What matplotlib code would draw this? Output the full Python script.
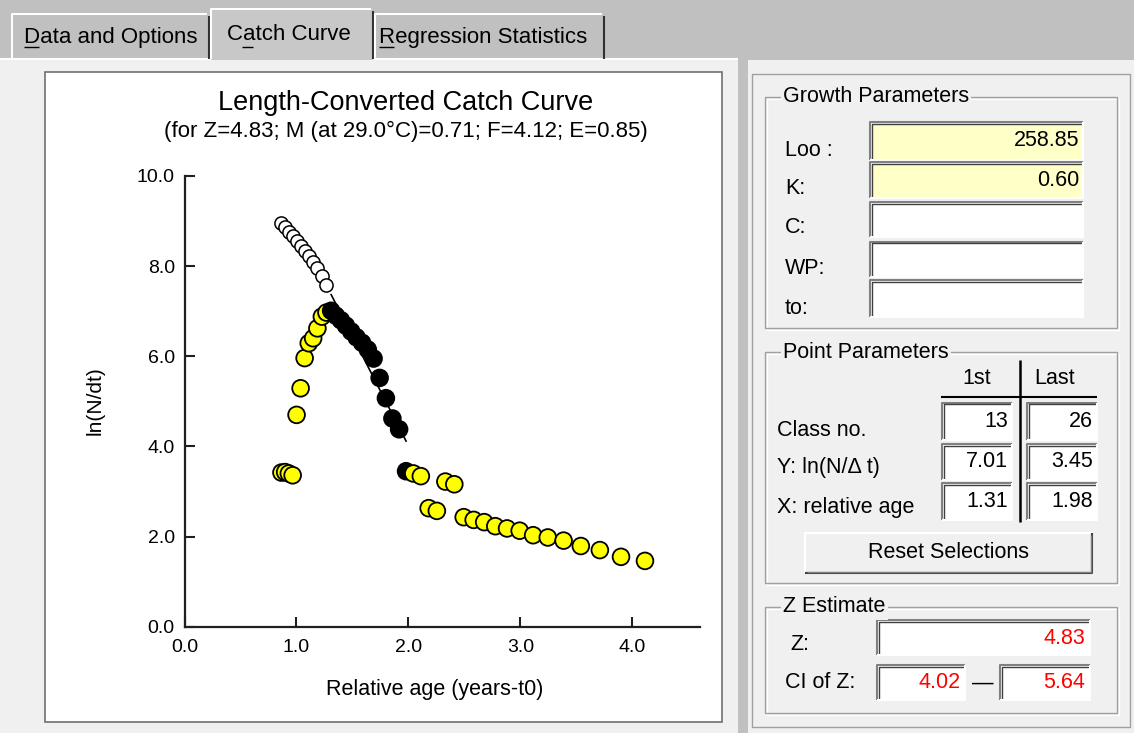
import numpy as np
import matplotlib
matplotlib.use('Agg')
import matplotlib.pyplot as plt
from matplotlib.patches import Rectangle
from matplotlib.lines import Line2D

plt.rcParams['font.family'] = ['Liberation Sans', 'DejaVu Sans']

W, H = 1134, 733

# relative age of each length class (classes 1..45) and observed ln(N/dt)
rel_age = [0.866, 0.899, 0.932, 0.966, 1.001, 1.037, 1.073, 1.110, 1.149, 1.187,
           1.227, 1.268, 1.310, 1.353, 1.397, 1.442, 1.489, 1.537, 1.586, 1.637,
           1.689, 1.743, 1.799, 1.857, 1.917, 1.979, 2.044, 2.111, 2.181, 2.254,
           2.330, 2.410, 2.494, 2.583, 2.677, 2.776, 2.881, 2.994, 3.114, 3.245,
           3.386, 3.540, 3.710, 3.899, 4.113]
ln_n_dt = [3.42, 3.43, 3.40, 3.36, 4.70, 5.29, 5.96, 6.29, 6.40, 6.62,
           6.88, 6.97, 7.01, 6.90, 6.80, 6.68, 6.55, 6.42, 6.30, 6.15,
           5.95, 5.52, 5.07, 4.62, 4.38, 3.45, 3.40, 3.34, 2.63, 2.57,
           3.22, 3.16, 2.43, 2.37, 2.32, 2.23, 2.18, 2.13, 2.03, 1.98,
           1.91, 1.79, 1.70, 1.55, 1.46]
# expected values for the first (not fully selected) classes - open circles
expected_y = [8.95, 8.86, 8.76, 8.66, 8.56, 8.45, 8.34, 8.22, 8.09, 7.95, 7.78, 7.58]

first_class, last_class = 13, 26

growth_labels = ['Loo :', 'K:', 'C:', 'WP:', 'to:']
growth_values = ['258.85', '0.60', '', '', '']
point_labels = ['Class no.', 'Y: ln(N/\u0394 t)', 'X: relative age']
z_est = 4.83
z_ci = (4.02, 5.64)
m_nat, temp, f_mort, expl = 0.71, 29.0, 4.12, 0.85
tab_names = ['Data and Options', 'Catch Curve', 'Regression Statistics']

fig = plt.figure(figsize=(W / 100, H / 100), dpi=100, facecolor='#c0c0c0')


def fx(x):
    return x / W


def fy(y):
    return 1 - y / H


def box(x0, y0, x1, y1, fc, ec='none', lw=1.0, z=-6):
    fig.add_artist(Rectangle((fx(x0), fy(y1)), (x1 - x0) / W, (y1 - y0) / H,
                             transform=fig.transFigure, fc=fc, ec=ec, lw=lw, zorder=z))


def seg(xs, ys, c, lw=1.0, z=-3):
    fig.add_artist(Line2D([fx(v) for v in xs], [fy(v) for v in ys],
                          transform=fig.transFigure, color=c, lw=lw, zorder=z,
                          solid_capstyle='butt'))


def sunken(x0, y0, x1, y1, fc):
    box(x0, y0, x1, y1, fc)
    seg([x0, x0, x1], [y1, y0, y0], '#808080', 1.5)
    seg([x0 + 1.5, x0 + 1.5, x1 - 1.5], [y1 - 1.5, y0 + 1.5, y0 + 1.5], '#404040', 1.0)
    seg([x0, x1, x1], [y1, y1, y0], '#ffffff', 1.5)


def raised(x0, y0, x1, y1, fc):
    box(x0, y0, x1, y1, fc)
    seg([x0, x0, x1], [y1, y0, y0], '#ffffff', 1.5)
    seg([x0, x1, x1], [y1, y1, y0], '#404040', 1.5)
    seg([x0 + 1.5, x1 - 1.5, x1 - 1.5], [y1 - 1.5, y1 - 1.5, y0 + 1.5], '#808080', 1.0)


def group(x0, y0, x1, y1, title):
    seg([x0, x1, x1, x0, x0], [y0, y0, y1, y1, y0], '#a0a0a0', 1.0)
    seg([x0 + 1.5, x1 + 1.5, x1 + 1.5, x0 + 1.5, x0 + 1.5],
        [y0 + 1.5, y0 + 1.5, y1 + 1.5, y1 + 1.5, y0 + 1.5], '#ffffff', 1.0, z=-4)
    fig.text(fx(x0 + 18), fy(y0), title, ha='left', va='center', fontsize=15.5,
             bbox=dict(fc='#f0f0f0', ec='none', pad=1.5))


def label(x, y, s, ha='left', color='black', size=15.5):
    fig.text(fx(x), fy(y), s, ha=ha, va='center', fontsize=size, color=color)


# page body
box(0, 60, 738, 733, '#f0f0f0')
box(748, 60, 1134, 733, '#f0f0f0')
seg([0, 211], [59, 59], '#ffffff', 1.5)
seg([373, 738], [59, 59], '#ffffff', 1.5)

# tabs
tab_x = [(12, 209), (211, 373), (375, 604)]
text_x = [24, 227, 379]
underline = [(24, 39), (242, 253), (379, 394)]
for i, name in enumerate(tab_names):
    x0, x1 = tab_x[i]
    top = 9 if i == 1 else 14
    box(x0, top, x1, 60, '#c0c0c0' if i != 1 else '#c8c8c8', z=-5)
    seg([x0, x0, x1 - 2], [59, top, top], '#ffffff', 1.5)
    seg([x1, x1], [top + 2, 59], '#303030', 1.5)
    ty = 35 if i == 1 else 37
    fig.text(fx(text_x[i]), fy(ty), name, ha='left', va='center', fontsize=16)
    seg(list(underline[i]), [47, 47], 'black', 1.0, z=3)

# plot panel
box(45, 72, 722, 722, 'white', ec='#707070', lw=1.2)

# right panel frame
seg([752, 1130, 1130, 752, 752], [74, 74, 727, 727, 74], '#a0a0a0', 1.0)

# ---- chart ----
ax = fig.add_axes([fx(184.5), fy(626.7), 515 / W, 450.7 / H])
ax.patch.set_visible(False)
ax.set_xlim(0, 4.6)
ax.set_ylim(0, 10)
for s in ['top', 'right']:
    ax.spines[s].set_visible(False)
for s in ['left', 'bottom']:
    ax.spines[s].set_linewidth(1.6)
    ax.spines[s].set_color('#202020')
ax.set_xticks([0, 1, 2, 3, 4])
ax.set_xticklabels(['%.1f' % v for v in [0, 1, 2, 3, 4]])
ax.set_yticks([0, 2, 4, 6, 8, 10])
ax.set_yticklabels(['%.1f' % v for v in [0, 2, 4, 6, 8, 10]])
ax.tick_params(direction='in', length=7, width=1.5, labelsize=14, color='#202020')
ax.tick_params(axis='y', pad=7)
ax.tick_params(axis='x', pad=9)

sel = [first_class - 1, last_class]
bx = rel_age[sel[0]:sel[1]]
by = ln_n_dt[sel[0]:sel[1]]
slope, icpt = np.polyfit(bx, by, 1)
ax.plot([bx[0], bx[-1]], [icpt + slope * bx[0], icpt + slope * bx[-1]],
        color='black', lw=1.2, zorder=2)

ax.scatter(rel_age[:len(expected_y)], expected_y, s=90, facecolor='white',
           edgecolor='black', lw=1.1, zorder=3, clip_on=False)
cols = ['black' if first_class <= i + 1 <= last_class else '#ffff00'
        for i in range(len(rel_age))]
ax.scatter(rel_age, ln_n_dt, s=145, c=cols, edgecolor='black', lw=1.3,
           zorder=4, clip_on=False)

label(406, 103, 'Length-Converted Catch Curve', ha='center', size=19.5)
label(406, 131, '(for Z=%.2f; M (at %.1f\u00b0C)=%.2f; F=%.2f; E=%.2f)'
      % (z_est, temp, m_nat, f_mort, expl), ha='center', size=16)
label(435, 689, 'Relative age (years-t0)', ha='center', size=15.5)
fig.text(fx(95), fy(401), 'ln(N/dt)', rotation=90, ha='center', va='center', fontsize=15)

# ---- growth parameters ----
group(765, 97, 1117, 328, 'Growth Parameters')
g_rows = [(122, 160), (162, 198), (202, 237), (242, 277), (280, 317)]
g_label_y = [151, 189, 228, 268, 308]
for i, (y0, y1) in enumerate(g_rows):
    sunken(870, y0, 1083, y1, '#ffffc8' if growth_values[i] else 'white')
    label(785, g_label_y[i], growth_labels[i])
    if growth_values[i]:
        label(1079, (y0 + y1) / 2, growth_values[i], ha='right')

# ---- point parameters ----
group(765, 352, 1117, 583, 'Point Parameters')
label(977, 378, '1st', ha='center')
label(1055, 378, 'Last', ha='center')
seg([941, 1097], [397, 397], 'black', 1.5)
seg([1020, 1020], [360, 522], 'black', 1.8)
p_rows = [(403, 440), (444, 480), (483, 520)]
p_label_y = [430, 468, 508]
fi, li = first_class - 1, last_class - 1
first_vals = ['%d' % first_class, '%.2f' % ln_n_dt[fi], '%.2f' % rel_age[fi]]
last_vals = ['%d' % last_class, '%.2f' % ln_n_dt[li], '%.2f' % rel_age[li]]
for i, (y0, y1) in enumerate(p_rows):
    sunken(942, y0, 1012, y1, 'white')
    sunken(1027, y0, 1097, y1, 'white')
    label(777, p_label_y[i], point_labels[i])
    label(1008, (y0 + y1) / 2, first_vals[i], ha='right')
    label(1093, (y0 + y1) / 2, last_vals[i], ha='right')

raised(805, 533, 1092, 573, '#f0f0f0')
label(948, 552, 'Reset Selections', ha='center')

# ---- Z estimate ----
group(765, 607, 1117, 713, 'Z Estimate')
label(790, 645, 'Z:')
label(785, 683, 'CI of Z:')
sunken(877, 620, 1090, 655, 'white')
label(1085, 638, '%.2f' % z_est, ha='right', color='#ff0000')
sunken(877, 665, 965, 700, 'white')
label(961, 683, '%.2f' % z_ci[0], ha='right', color='#ff0000')
label(983, 683, '\u2014', ha='center')
sunken(1000, 665, 1090, 700, 'white')
label(1085, 683, '%.2f' % z_ci[1], ha='right', color='#ff0000')

fig.savefig('out.png', dpi=100, facecolor=fig.get_facecolor())
